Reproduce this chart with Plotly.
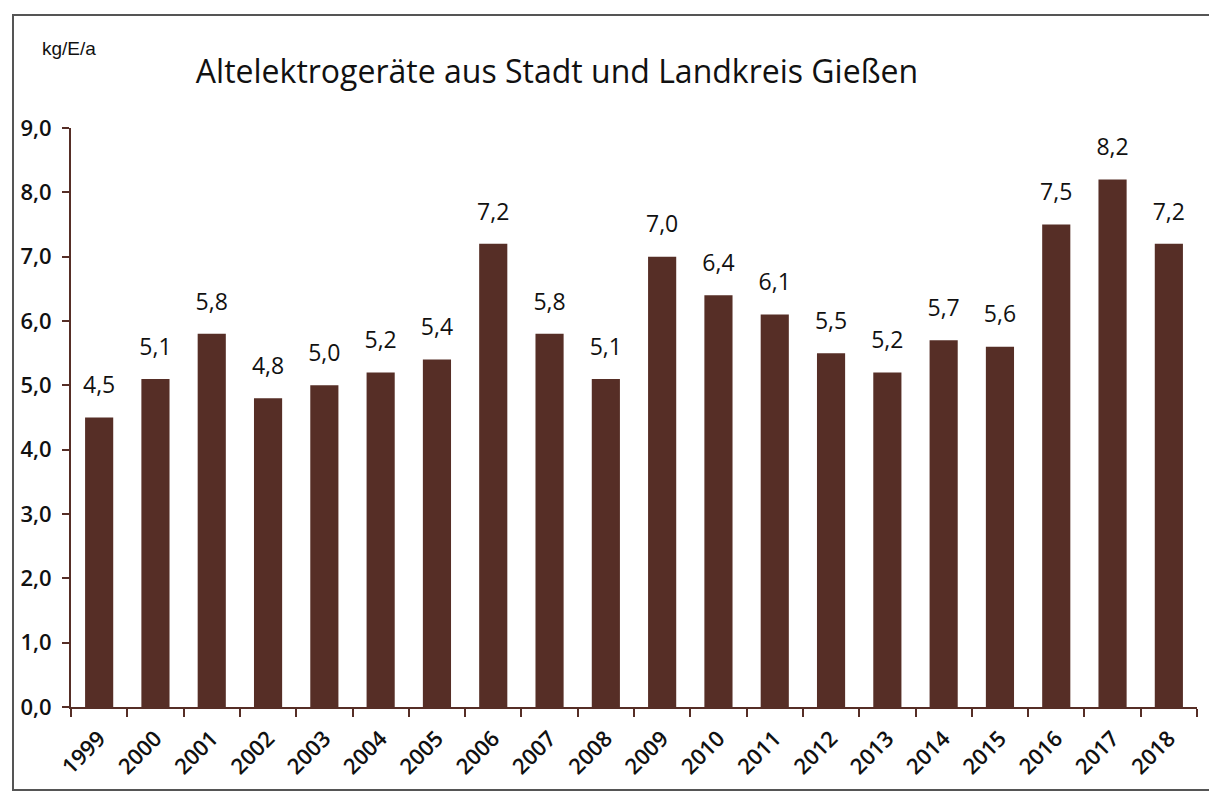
import plotly.graph_objects as go

years = [str(y) for y in range(1999, 2019)]
values = [4.5, 5.1, 5.8, 4.8, 5.0, 5.2, 5.4, 7.2, 5.8, 5.1, 7.0, 6.4, 6.1, 5.5, 5.2, 5.7, 5.6, 7.5, 8.2, 7.2]
y_ticks = [0, 1, 2, 3, 4, 5, 6, 7, 8, 9]

BAR = "#562e26"
FONT = "Open Sans"

fig = go.Figure()
fig.add_trace(go.Bar(
    x=years, y=values, marker=dict(color=BAR, line=dict(width=0)), hoverinfo="skip",
))
fig.add_trace(go.Scatter(
    x=years, y=values, mode="markers+text", texttemplate="%{y:.1f}",
    textposition="top center", cliponaxis=False,
    marker=dict(size=28, color="rgba(0,0,0,0)"),
    textfont=dict(family=FONT, size=23, color="#111"),
))

# page offset of the plot div (body margin)
O = 8
W, H = 1217 - O, 801 - O
L, R, T, B = 71 - O, 20, 128 - O, 94
pw, ph = W - L - R, H - T - B


def px(x):
    return (x - O - L) / pw


def py(y):
    return (H - B - (y - O)) / ph


fig.update_layout(
    width=W, height=H, separators=",.",
    margin=dict(l=L, r=R, t=T, b=B, autoexpand=False),
    paper_bgcolor="white", plot_bgcolor="white",
    bargap=0.5, showlegend=False,
    title=dict(text="Altelektrogeräte aus Stadt und Landkreis Gießen",
               x=(557 - O) / W, xanchor="center", y=1 - (72 - O) / H, yanchor="middle",
               font=dict(family=FONT, size=32, color="#111")),
    xaxis=dict(type="category", range=[-0.5, len(years) - 0.5], showline=True, linecolor=BAR,
               linewidth=2, automargin=False,
               ticks="outside", tickson="boundaries", ticklen=8, tickcolor=BAR, tickwidth=2,
               ticklabelstandoff=8,
               tickangle=-45, tickfont=dict(family=FONT, size=22, color="#111", weight=600),
               showgrid=False),
    yaxis=dict(range=[0, 9], tickvals=y_ticks, tickformat=".1f", showline=True, linecolor=BAR,
               linewidth=2, ticks="outside", ticklen=7, tickcolor=BAR, tickwidth=2, automargin=False,
               ticklabelstandoff=6,
               tickfont=dict(family=FONT, size=22, color="#111", weight=600),
               showgrid=False, zeroline=False),
    annotations=[dict(text="kg/E/a", xref="paper", yref="paper",
                      x=px(40), y=py(48), xanchor="left", yanchor="middle",
                      showarrow=False, font=dict(family="Liberation Sans", size=19, color="#111"))],
    shapes=[dict(type="rect", xref="paper", yref="paper",
                 x0=px(13), x1=px(1210), y0=py(790), y1=py(15),
                 line=dict(color="#555", width=2))],
)

fig.write_html("out.html")
